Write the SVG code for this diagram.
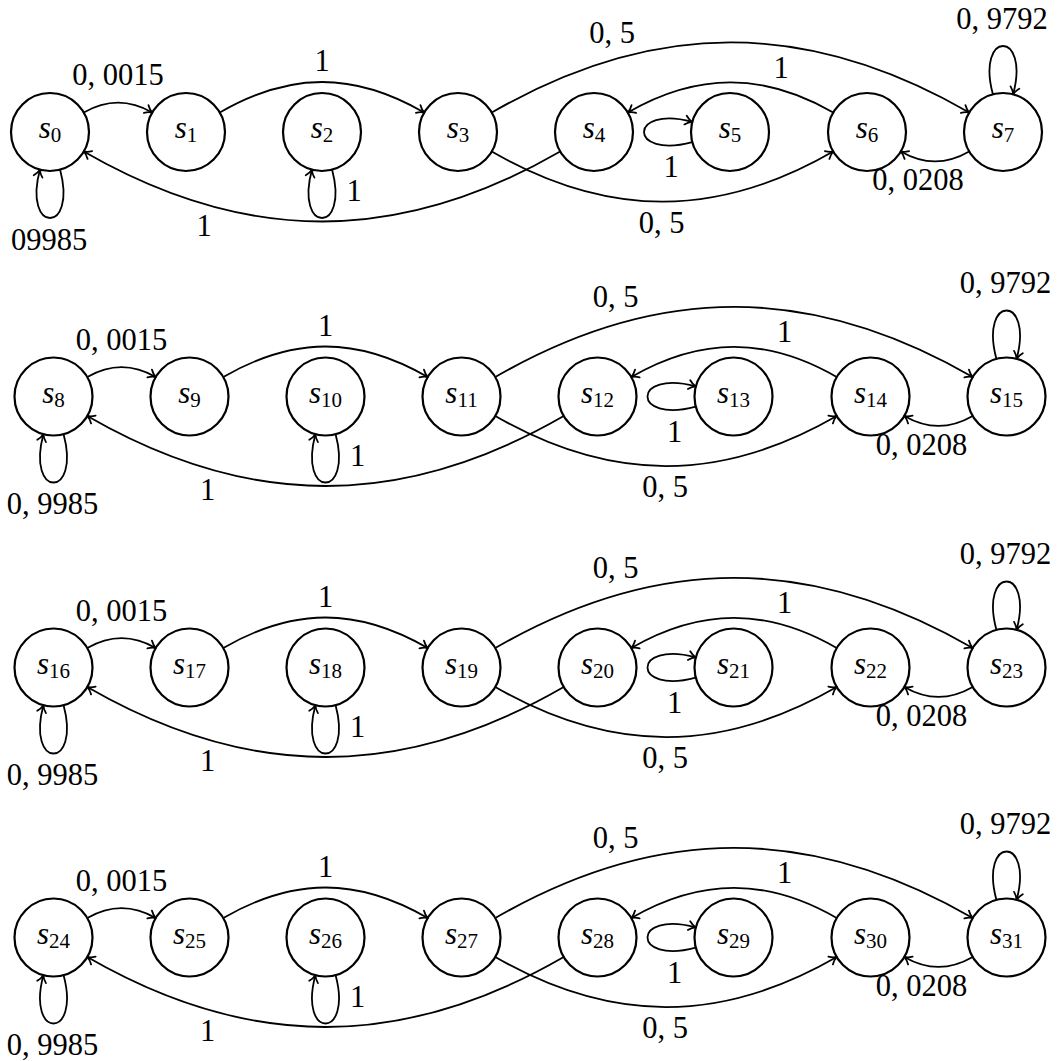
<svg xmlns="http://www.w3.org/2000/svg" width="1059" height="1061" viewBox="0 0 1059 1061">
<style>
.st{fill:none;stroke:#000;stroke-width:2.2}
.e{fill:none;stroke:#000;stroke-width:1.8;marker-end:url(#arr)}
.nl{font-family:"Liberation Serif","DejaVu Serif",serif;font-size:31px;text-anchor:middle;fill:#000}
.it{font-style:italic}
.sub{font-size:21px;font-style:normal}
.lb{font-family:"Liberation Serif","DejaVu Serif",serif;font-size:30.5px;text-anchor:middle;fill:#000}
</style>
<defs>
<marker id="arr" markerUnits="userSpaceOnUse" orient="auto" refX="0" refY="0" markerWidth="20" markerHeight="20" viewBox="-10 -10 20 20" overflow="visible">
<path d="M-7,-4.5 C-4.5,-2 -1.5,-0.5 0,0 C-1.5,0.5 -4.5,2 -7,4.5" fill="none" stroke="#000" stroke-width="1.8" stroke-linecap="round" stroke-linejoin="round"/>
</marker>
</defs>
<rect width="1059" height="1061" fill="#fff"/>

<!-- Row 1 -->
<g id="row1" transform="translate(50,132)">
<g id="connectors-row1">
<path class="e" d="M33.8,-19.5 C57,-32.9 79,-32.9 102.2,-19.5"/>
<path class="e" d="M169.8,-19.5 C240.2,-60.2 303.8,-60.2 374.2,-19.5"/>
<path class="e" d="M441.8,-19.5 C603.7,-113 757.3,-113 919.2,-19.5"/>
<path class="e" d="M441.8,19.5 C557.6,86.3 667.4,86.3 783.2,19.5"/>
<path class="e" d="M783.2,-19.5 C713.6,-59.7 647.4,-59.7 577.8,-19.5"/>
<path class="e" d="M510.2,19.5 C348.7,112.8 195.3,112.8 33.8,19.5"/>
<path class="e" d="M919.2,19.5 C896,32.9 874,32.9 850.8,19.5"/>
<path class="e" d="M10.1,37.7 C27.4,102.1 -27.4,102.1 -10.1,37.7"/>
<path class="e" d="M282.1,37.7 C299.4,102.1 244.6,102.1 261.9,37.7"/>
<path class="e" d="M642.3,10.1 C577.9,27.4 577.9,-27.4 642.3,-10.1"/>
<path class="e" d="M942.9,-37.7 C925.6,-102.1 980.4,-102.1 963.1,-37.7"/>
<text class="lb" x="68" y="-47">0, 0015</text>
<text class="lb" x="272" y="-61">1</text>
<text class="lb" x="562" y="-89.5">0, 5</text>
<text class="lb" x="731" y="-54.5">1</text>
<text class="lb" x="952" y="-103.5">0, 9792</text>
<text class="lb" x="621" y="45">1</text>
<text class="lb" x="868" y="58">0, 0208</text>
<text class="lb" x="611.5" y="100.5">0, 5</text>
<text class="lb" x="154" y="103.5">1</text>
<text class="lb" x="304" y="69">1</text>
<text class="lb" x="-1" y="117.5">09985</text>
</g>
<g id="s0"><circle class="st" cx="0" cy="0" r="39"/><text class="nl" x="0" y="6"><tspan class="it">s</tspan><tspan class="sub" dy="4">0</tspan></text></g>
<g id="s1"><circle class="st" cx="136" cy="0" r="39"/><text class="nl" x="136" y="6"><tspan class="it">s</tspan><tspan class="sub" dy="4">1</tspan></text></g>
<g id="s2"><circle class="st" cx="272" cy="0" r="39"/><text class="nl" x="272" y="6"><tspan class="it">s</tspan><tspan class="sub" dy="4">2</tspan></text></g>
<g id="s3"><circle class="st" cx="408" cy="0" r="39"/><text class="nl" x="408" y="6"><tspan class="it">s</tspan><tspan class="sub" dy="4">3</tspan></text></g>
<g id="s4"><circle class="st" cx="544" cy="0" r="39"/><text class="nl" x="544" y="6"><tspan class="it">s</tspan><tspan class="sub" dy="4">4</tspan></text></g>
<g id="s5"><circle class="st" cx="680" cy="0" r="39"/><text class="nl" x="680" y="6"><tspan class="it">s</tspan><tspan class="sub" dy="4">5</tspan></text></g>
<g id="s6"><circle class="st" cx="817" cy="0" r="39"/><text class="nl" x="817" y="6"><tspan class="it">s</tspan><tspan class="sub" dy="4">6</tspan></text></g>
<g id="s7"><circle class="st" cx="953" cy="0" r="39"/><text class="nl" x="953" y="6"><tspan class="it">s</tspan><tspan class="sub" dy="4">7</tspan></text></g>
</g>

<!-- Row 2 -->
<g id="row2" transform="translate(53.5,396.5)">
<g id="connectors-row2">
<path class="e" d="M33.8,-19.5 C57,-32.9 79,-32.9 102.2,-19.5"/>
<path class="e" d="M169.8,-19.5 C240.2,-60.2 303.8,-60.2 374.2,-19.5"/>
<path class="e" d="M441.8,-19.5 C603.7,-113 757.3,-113 919.2,-19.5"/>
<path class="e" d="M441.8,19.5 C557.6,86.3 667.4,86.3 783.2,19.5"/>
<path class="e" d="M783.2,-19.5 C713.6,-59.7 647.4,-59.7 577.8,-19.5"/>
<path class="e" d="M510.2,19.5 C348.7,112.8 195.3,112.8 33.8,19.5"/>
<path class="e" d="M919.2,19.5 C896,32.9 874,32.9 850.8,19.5"/>
<path class="e" d="M10.1,37.7 C27.4,102.1 -27.4,102.1 -10.1,37.7"/>
<path class="e" d="M282.1,37.7 C299.4,102.1 244.6,102.1 261.9,37.7"/>
<path class="e" d="M642.3,10.1 C577.9,27.4 577.9,-27.4 642.3,-10.1"/>
<path class="e" d="M942.9,-37.7 C925.6,-102.1 980.4,-102.1 963.1,-37.7"/>
<text class="lb" x="68" y="-47">0, 0015</text>
<text class="lb" x="272" y="-61">1</text>
<text class="lb" x="562" y="-89.5">0, 5</text>
<text class="lb" x="731" y="-54.5">1</text>
<text class="lb" x="952" y="-103.5">0, 9792</text>
<text class="lb" x="621" y="45">1</text>
<text class="lb" x="868" y="58">0, 0208</text>
<text class="lb" x="611.5" y="100.5">0, 5</text>
<text class="lb" x="154" y="103.5">1</text>
<text class="lb" x="304" y="69">1</text>
<text class="lb" x="-1" y="117.5">0, 9985</text>
</g>
<g id="s8"><circle class="st" cx="0" cy="0" r="39"/><text class="nl" x="0" y="6"><tspan class="it">s</tspan><tspan class="sub" dy="4">8</tspan></text></g>
<g id="s9"><circle class="st" cx="136" cy="0" r="39"/><text class="nl" x="136" y="6"><tspan class="it">s</tspan><tspan class="sub" dy="4">9</tspan></text></g>
<g id="s10"><circle class="st" cx="272" cy="0" r="39"/><text class="nl" x="272" y="6"><tspan class="it">s</tspan><tspan class="sub" dy="4">10</tspan></text></g>
<g id="s11"><circle class="st" cx="408" cy="0" r="39"/><text class="nl" x="408" y="6"><tspan class="it">s</tspan><tspan class="sub" dy="4">11</tspan></text></g>
<g id="s12"><circle class="st" cx="544" cy="0" r="39"/><text class="nl" x="544" y="6"><tspan class="it">s</tspan><tspan class="sub" dy="4">12</tspan></text></g>
<g id="s13"><circle class="st" cx="680" cy="0" r="39"/><text class="nl" x="680" y="6"><tspan class="it">s</tspan><tspan class="sub" dy="4">13</tspan></text></g>
<g id="s14"><circle class="st" cx="817" cy="0" r="39"/><text class="nl" x="817" y="6"><tspan class="it">s</tspan><tspan class="sub" dy="4">14</tspan></text></g>
<g id="s15"><circle class="st" cx="953" cy="0" r="39"/><text class="nl" x="953" y="6"><tspan class="it">s</tspan><tspan class="sub" dy="4">15</tspan></text></g>
</g>

<!-- Row 3 -->
<g id="row3" transform="translate(53.5,667.5)">
<g id="connectors-row3">
<path class="e" d="M33.8,-19.5 C57,-32.9 79,-32.9 102.2,-19.5"/>
<path class="e" d="M169.8,-19.5 C240.2,-60.2 303.8,-60.2 374.2,-19.5"/>
<path class="e" d="M441.8,-19.5 C603.7,-113 757.3,-113 919.2,-19.5"/>
<path class="e" d="M441.8,19.5 C557.6,86.3 667.4,86.3 783.2,19.5"/>
<path class="e" d="M783.2,-19.5 C713.6,-59.7 647.4,-59.7 577.8,-19.5"/>
<path class="e" d="M510.2,19.5 C348.7,112.8 195.3,112.8 33.8,19.5"/>
<path class="e" d="M919.2,19.5 C896,32.9 874,32.9 850.8,19.5"/>
<path class="e" d="M10.1,37.7 C27.4,102.1 -27.4,102.1 -10.1,37.7"/>
<path class="e" d="M282.1,37.7 C299.4,102.1 244.6,102.1 261.9,37.7"/>
<path class="e" d="M642.3,10.1 C577.9,27.4 577.9,-27.4 642.3,-10.1"/>
<path class="e" d="M942.9,-37.7 C925.6,-102.1 980.4,-102.1 963.1,-37.7"/>
<text class="lb" x="68" y="-47">0, 0015</text>
<text class="lb" x="272" y="-61">1</text>
<text class="lb" x="562" y="-89.5">0, 5</text>
<text class="lb" x="731" y="-54.5">1</text>
<text class="lb" x="952" y="-103.5">0, 9792</text>
<text class="lb" x="621" y="45">1</text>
<text class="lb" x="868" y="58">0, 0208</text>
<text class="lb" x="611.5" y="100.5">0, 5</text>
<text class="lb" x="154" y="103.5">1</text>
<text class="lb" x="304" y="69">1</text>
<text class="lb" x="-1" y="117.5">0, 9985</text>
</g>
<g id="s16"><circle class="st" cx="0" cy="0" r="39"/><text class="nl" x="0" y="6"><tspan class="it">s</tspan><tspan class="sub" dy="4">16</tspan></text></g>
<g id="s17"><circle class="st" cx="136" cy="0" r="39"/><text class="nl" x="136" y="6"><tspan class="it">s</tspan><tspan class="sub" dy="4">17</tspan></text></g>
<g id="s18"><circle class="st" cx="272" cy="0" r="39"/><text class="nl" x="272" y="6"><tspan class="it">s</tspan><tspan class="sub" dy="4">18</tspan></text></g>
<g id="s19"><circle class="st" cx="408" cy="0" r="39"/><text class="nl" x="408" y="6"><tspan class="it">s</tspan><tspan class="sub" dy="4">19</tspan></text></g>
<g id="s20"><circle class="st" cx="544" cy="0" r="39"/><text class="nl" x="544" y="6"><tspan class="it">s</tspan><tspan class="sub" dy="4">20</tspan></text></g>
<g id="s21"><circle class="st" cx="680" cy="0" r="39"/><text class="nl" x="680" y="6"><tspan class="it">s</tspan><tspan class="sub" dy="4">21</tspan></text></g>
<g id="s22"><circle class="st" cx="817" cy="0" r="39"/><text class="nl" x="817" y="6"><tspan class="it">s</tspan><tspan class="sub" dy="4">22</tspan></text></g>
<g id="s23"><circle class="st" cx="953" cy="0" r="39"/><text class="nl" x="953" y="6"><tspan class="it">s</tspan><tspan class="sub" dy="4">23</tspan></text></g>
</g>

<!-- Row 4 -->
<g id="row4" transform="translate(53.5,937.5)">
<g id="connectors-row4">
<path class="e" d="M33.8,-19.5 C57,-32.9 79,-32.9 102.2,-19.5"/>
<path class="e" d="M169.8,-19.5 C240.2,-60.2 303.8,-60.2 374.2,-19.5"/>
<path class="e" d="M441.8,-19.5 C603.7,-113 757.3,-113 919.2,-19.5"/>
<path class="e" d="M441.8,19.5 C557.6,86.3 667.4,86.3 783.2,19.5"/>
<path class="e" d="M783.2,-19.5 C713.6,-59.7 647.4,-59.7 577.8,-19.5"/>
<path class="e" d="M510.2,19.5 C348.7,112.8 195.3,112.8 33.8,19.5"/>
<path class="e" d="M919.2,19.5 C896,32.9 874,32.9 850.8,19.5"/>
<path class="e" d="M10.1,37.7 C27.4,102.1 -27.4,102.1 -10.1,37.7"/>
<path class="e" d="M282.1,37.7 C299.4,102.1 244.6,102.1 261.9,37.7"/>
<path class="e" d="M642.3,10.1 C577.9,27.4 577.9,-27.4 642.3,-10.1"/>
<path class="e" d="M942.9,-37.7 C925.6,-102.1 980.4,-102.1 963.1,-37.7"/>
<text class="lb" x="68" y="-47">0, 0015</text>
<text class="lb" x="272" y="-61">1</text>
<text class="lb" x="562" y="-89.5">0, 5</text>
<text class="lb" x="731" y="-54.5">1</text>
<text class="lb" x="952" y="-103.5">0, 9792</text>
<text class="lb" x="621" y="45">1</text>
<text class="lb" x="868" y="58">0, 0208</text>
<text class="lb" x="611.5" y="100.5">0, 5</text>
<text class="lb" x="154" y="103.5">1</text>
<text class="lb" x="304" y="69">1</text>
<text class="lb" x="-1" y="117.5">0, 9985</text>
</g>
<g id="s24"><circle class="st" cx="0" cy="0" r="39"/><text class="nl" x="0" y="6"><tspan class="it">s</tspan><tspan class="sub" dy="4">24</tspan></text></g>
<g id="s25"><circle class="st" cx="136" cy="0" r="39"/><text class="nl" x="136" y="6"><tspan class="it">s</tspan><tspan class="sub" dy="4">25</tspan></text></g>
<g id="s26"><circle class="st" cx="272" cy="0" r="39"/><text class="nl" x="272" y="6"><tspan class="it">s</tspan><tspan class="sub" dy="4">26</tspan></text></g>
<g id="s27"><circle class="st" cx="408" cy="0" r="39"/><text class="nl" x="408" y="6"><tspan class="it">s</tspan><tspan class="sub" dy="4">27</tspan></text></g>
<g id="s28"><circle class="st" cx="544" cy="0" r="39"/><text class="nl" x="544" y="6"><tspan class="it">s</tspan><tspan class="sub" dy="4">28</tspan></text></g>
<g id="s29"><circle class="st" cx="680" cy="0" r="39"/><text class="nl" x="680" y="6"><tspan class="it">s</tspan><tspan class="sub" dy="4">29</tspan></text></g>
<g id="s30"><circle class="st" cx="817" cy="0" r="39"/><text class="nl" x="817" y="6"><tspan class="it">s</tspan><tspan class="sub" dy="4">30</tspan></text></g>
<g id="s31"><circle class="st" cx="953" cy="0" r="39"/><text class="nl" x="953" y="6"><tspan class="it">s</tspan><tspan class="sub" dy="4">31</tspan></text></g>
</g>
</svg>
